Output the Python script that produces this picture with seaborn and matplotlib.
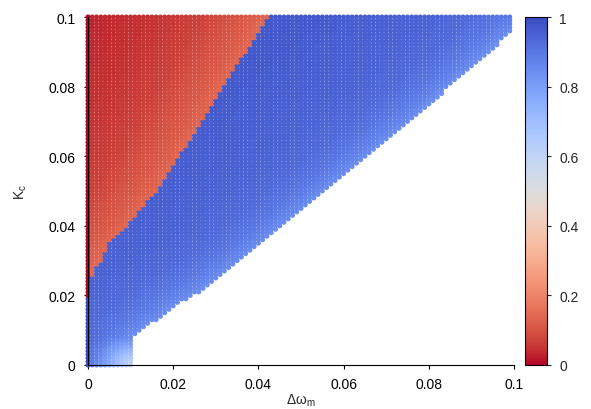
import matplotlib
matplotlib.use("Agg")
import matplotlib.pyplot as plt
from matplotlib.ticker import FuncFormatter, MultipleLocator
import numpy as np
import pandas as pd
import seaborn as sns

sns.set_style("ticks")
plt.rcParams['font.family'] = ['Liberation Sans', 'DejaVu Sans']
plt.rcParams['mathtext.fontset'] = 'custom'
plt.rcParams['mathtext.rm'] = 'Liberation Sans'
plt.rcParams['mathtext.it'] = 'Liberation Sans'

# sampling grid of the sweep (delta omega_m, K_c)
grid_x = np.round(np.arange(0, 100) * 0.001, 3)
grid_y = np.round(np.arange(0, 101) * 0.001, 3)

# right edge of the red (unsynchronised) region, read per K_c level
red_edge_y = [0.020, 0.028, 0.030, 0.035, 0.040, 0.050, 0.060, 0.070, 0.080, 0.090, 0.100]
red_edge_x = [0.0, 0.0015, 0.003, 0.0049, 0.0092, 0.016, 0.0214, 0.0268, 0.0315, 0.037, 0.042]

# lower edge of the computed region (white below), read per delta omega level
corner_x = 0.0105
low_edge_x = [0.0105, 0.011, 0.0144, 0.0167, 0.019, 0.0254, 0.028, 0.0379, 0.0762, 0.0995, 0.100]
low_edge_y = [0.0, 0.0083, 0.0118, 0.0132, 0.016, 0.0204, 0.0227, 0.0319, 0.0707, 0.0957, 0.096]

# order parameter
red_dist = [0.0, 0.003, 0.008, 0.015, 0.025, 0.04]
red_val = [0.14, 0.12, 0.10, 0.07, 0.05, 0.03]
blue_gap = [0.0, 0.002, 0.005, 0.010, 0.020, 0.040]
blue_val = [0.84, 0.87, 0.90, 0.93, 0.95, 0.97]
corner_dist = [0.0, 0.003, 0.006, 0.009, 0.012, 0.016]
corner_val = [0.58, 0.68, 0.79, 0.88, 0.93, 0.97]

xx, yy = np.meshgrid(grid_x, grid_y)
xx = xx.ravel()
yy = yy.ravel()

y_low = np.interp(xx, low_edge_x, low_edge_y)
y_low = np.where(xx < corner_x, -1.0, y_low)
keep = yy >= y_low - 1e-9
xx, yy = xx[keep], yy[keep]

# outline of the white area, to measure how far each point sits from it
bx = np.concatenate([np.full(20, corner_x), np.linspace(corner_x, 0.1, 400)])
by = np.concatenate([np.linspace(0, low_edge_y[1], 20), np.interp(np.linspace(corner_x, 0.1, 400), low_edge_x, low_edge_y)])
gap = np.sqrt((xx[:, None] - bx[None, :]) ** 2 + (yy[:, None] - by[None, :]) ** 2).min(axis=1)
cgap = np.sqrt((xx - corner_x) ** 2 + yy ** 2)

x_red = np.interp(yy, red_edge_y, red_edge_x, left=-1.0)
is_red = xx <= x_red + 1e-9

blue = np.minimum(np.interp(gap, blue_gap, blue_val), np.interp(cgap, corner_dist, corner_val))
blue = np.where(xx == 0, 1.0, blue)
red = np.interp(x_red - xx, red_dist, red_val)
red = np.where(xx == 0, 0.0, red)
value = np.where(is_red, red, blue)

df = pd.DataFrame({'dw': xx, 'kc': yy, 'r': value})

fig = plt.figure(figsize=(5.91, 4.10), dpi=100)
ax = fig.add_axes([88 / 591, 44 / 410, 426 / 591, 348 / 410])
cax = fig.add_axes([525 / 591, 44 / 410, 22 / 591, 348 / 410])

sns.scatterplot(data=df, x='dw', y='kc', hue='r', palette='coolwarm_r', hue_norm=(0, 1),
                s=13, linewidth=0, marker='o', legend=False, clip_on=False, ax=ax)

ax.set_xlim(0, 0.1)
ax.set_ylim(0, 0.1)
ax.xaxis.set_major_locator(MultipleLocator(0.02))
ax.yaxis.set_major_locator(MultipleLocator(0.02))
fmt = FuncFormatter(lambda v, p: '%g' % round(v, 4))
ax.xaxis.set_major_formatter(fmt)
ax.yaxis.set_major_formatter(fmt)
ax.tick_params(direction='out', length=3, width=0.8, labelsize=10, pad=6, colors='black')
for s in ['top', 'right']:
    ax.spines[s].set_visible(False)
for s in ['left', 'bottom']:
    ax.spines[s].set_color('black')
    ax.spines[s].set_linewidth(0.8)
    ax.spines[s].set_zorder(5)
ax.set_xlabel(r'$\Delta\omega_\mathrm{m}$', fontsize=10, labelpad=0)
ax.set_ylabel(r'K$_\mathrm{c}$', fontsize=10, labelpad=14)

sm = plt.cm.ScalarMappable(cmap='coolwarm_r', norm=plt.Normalize(0, 1))
cb = fig.colorbar(sm, cax=cax)
cb.set_ticks([0, 0.2, 0.4, 0.6, 0.8, 1])
cb.ax.yaxis.set_major_formatter(fmt)
cb.ax.tick_params(direction='out', length=3, width=0.8, labelsize=10, pad=6)
cb.outline.set_edgecolor('black')
cb.outline.set_linewidth(0.8)

fig.savefig('out.png', dpi=100)
